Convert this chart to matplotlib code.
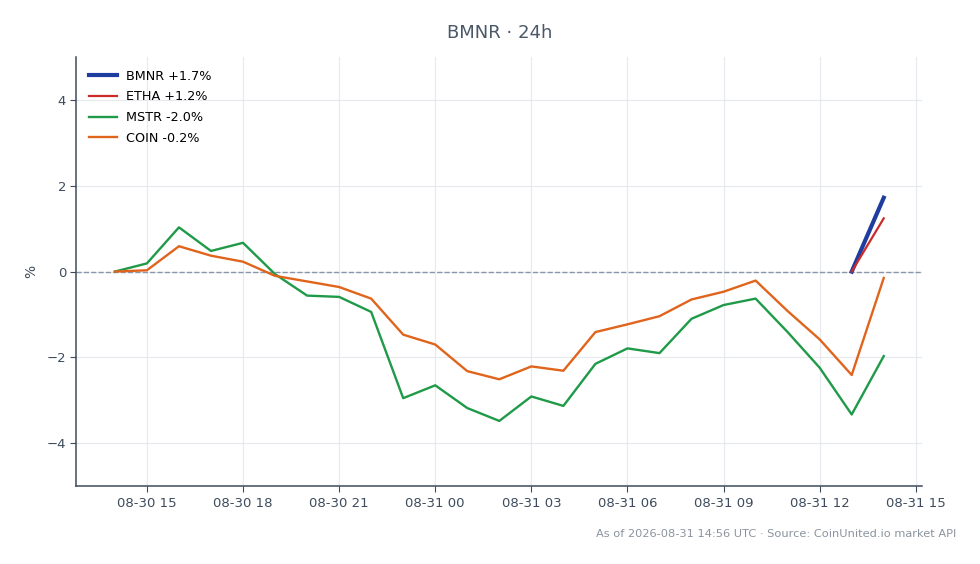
import matplotlib
matplotlib.use("Agg")
import matplotlib.pyplot as plt
import matplotlib.dates as mdates
import pandas as pd

times = pd.date_range("2026-08-30 14:00", "2026-08-31 14:00", freq="h")

mstr = [0.0, 0.19, 1.03, 0.48, 0.67, -0.06, -0.56, -0.59, -0.94, -2.95,
        -2.65, -3.18, -3.48, -2.91, -3.13, -2.15, -1.79, -1.90, -1.10,
        -0.78, -0.63, -1.41, -2.24, -3.33, -1.97]
coin = [0.0, 0.03, 0.59, 0.37, 0.23, -0.10, -0.23, -0.36, -0.63, -1.47,
        -1.70, -2.32, -2.51, -2.21, -2.31, -1.41, -1.23, -1.04, -0.65,
        -0.47, -0.21, -0.92, -1.58, -2.41, -0.15]
bmnr = [0.0, 1.72]
etha = [0.0, 1.24]

labels = ["BMNR +1.7%", "ETHA +1.2%", "MSTR -2.0%", "COIN -0.2%"]

text_col = "#3d4b5c"

fig = plt.figure(figsize=(9.8, 5.64), dpi=100)
ax = fig.add_axes([0.078, 0.138, 0.863, 0.761])

ax.plot(times[-2:], bmnr, color="#1f3d9e", lw=3, label=labels[0], zorder=5)
ax.plot(times[-2:], etha, color="#cc2b2b", lw=1.6, label=labels[1], zorder=6)
ax.plot(times, mstr, color="#1f9a48", lw=1.7, label=labels[2], zorder=4)
ax.plot(times, coin, color="#e0641c", lw=1.7, label=labels[3], zorder=4)

ax.axhline(0, color="#8796a8", lw=1, ls="--", zorder=2)

ax.set_ylim(-5, 5)
ax.set_yticks([-4, -2, 0, 2, 4])
ax.xaxis.set_major_locator(mdates.HourLocator(byhour=range(0, 24, 3)))
ax.xaxis.set_major_formatter(mdates.DateFormatter("%m-%d %H"))

ax.grid(True, color="#e6e9ee", lw=0.8)
ax.set_axisbelow(True)
for s in ["top", "right"]:
    ax.spines[s].set_visible(False)
for s in ["left", "bottom"]:
    ax.spines[s].set_color("#3d4b5c")
    ax.spines[s].set_linewidth(1.1)
ax.tick_params(colors=text_col, labelsize=9.5, length=4)

ax.set_ylabel("%", color=text_col, fontsize=10, labelpad=6)
ax.set_title("BMNR · 24h", color="#4a5868", fontsize=13, pad=14)

leg = ax.legend(loc="upper left", frameon=False, fontsize=9.2,
                handlelength=2.2, handletextpad=0.7, labelspacing=0.6,
                borderaxespad=0.6)

fig.text(0.976, 0.054, "As of 2026-08-31 14:56 UTC · Source: CoinUnited.io market API",
         ha="right", va="center", color="#8a949e", fontsize=8.2)

fig.savefig("out.png", dpi=100, facecolor="white")
